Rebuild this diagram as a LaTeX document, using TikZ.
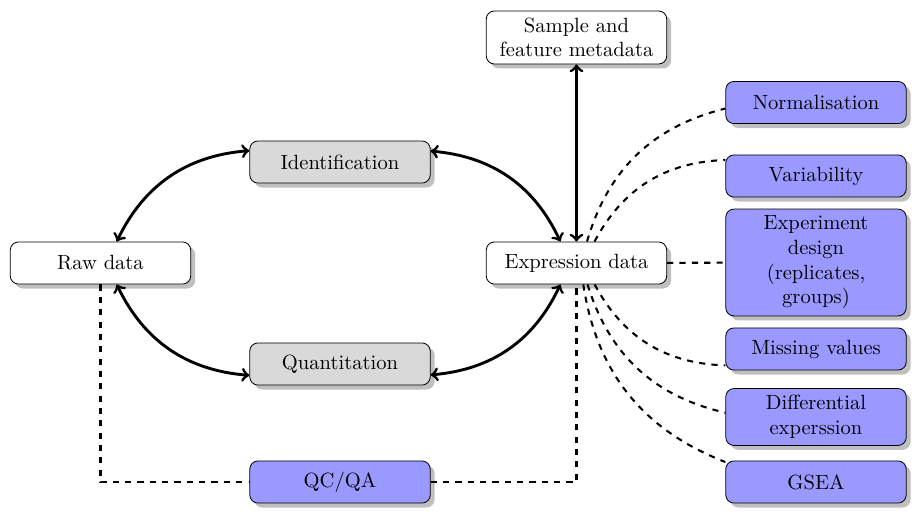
\documentclass[tikz,border=0pt]{standalone}
\usetikzlibrary{shadows}
\definecolor{procfill}{gray}{0.85}
\definecolor{taskfill}{RGB}{153,153,255}
\tikzset{
  box/.style={draw, rounded corners, text width=2.85cm, align=center,
    minimum height=0.72cm, inner sep=3.33pt, fill=white, drop shadow},
  procbox/.style={box, fill=procfill},
  taskbox/.style={box, fill=taskfill},
  flow/.style={<->, line width=1.4pt},
  link/.style={dashed, line width=1pt}
}
\begin{document}
\begin{tikzpicture}[x=0.4862pt, y=-0.4862pt]
\useasboundingbox (0,0) rectangle (917,514);
\node[box] (raw) at (100.5,263) {Raw data};
\node[procbox] (ident) at (340,162) {Identification};
\node[procbox] (quant) at (340,364) {Quantitation};
\node[box] (expr) at (576.5,263) {Expression data};
\node[box] (meta) at (576.5,37.5) {Sample and\\ feature metadata};
\node[taskbox] (qc) at (340,482) {QC/QA};
\node[taskbox] (norm) at (816,102.5) {Normalisation};
\node[taskbox] (var) at (816,176) {Variability};
\node[taskbox] (design) at (816,262.5) {Experiment\\ design\\ (replicates,\\ groups)};
\node[taskbox] (miss) at (816,349) {Missing values};
\node[taskbox] (diff) at (816,417) {Differential\\ experssion};
\node[taskbox] (gsea) at (816,482) {GSEA};

\draw[flow] (raw) to[bend left] (ident);
\draw[flow] (ident) to[bend left] (expr);
\draw[flow] (raw) to[bend right] (quant);
\draw[flow] (quant) to[bend right] (expr);
\draw[flow] (expr) -- (meta);

\draw[link] (raw) |- (qc);
\draw[link] (qc) -| (expr);

\draw[link] (expr) to[bend left] (norm);
\draw[link] (expr) to[bend left] (var);
\draw[link] (expr) -- (design);
\draw[link] (expr) to[bend right] (miss);
\draw[link] (expr) to[bend right] (diff);
\draw[link] (expr) to[bend right] (gsea);
\end{tikzpicture}
\end{document}
